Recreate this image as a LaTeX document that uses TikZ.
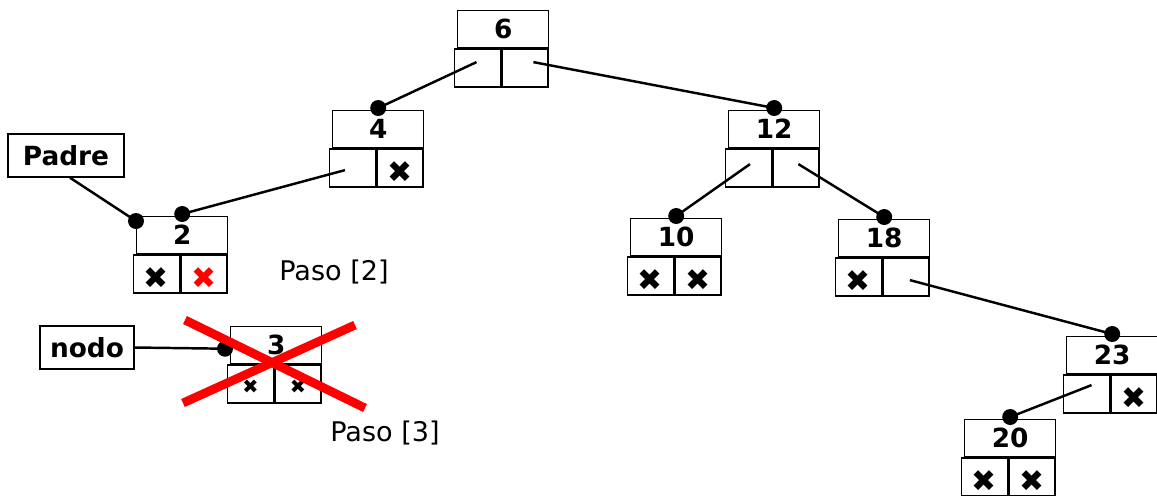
\documentclass[tikz,border=0pt]{standalone}
\usepackage{fontspec}
\setmainfont{DejaVu Sans}
\usepackage{xcolor}
\usepackage{tikz}
\usetikzlibrary{positioning,calc}

\newcommand{\crs}{\raisebox{-8.2pt}{✖}}
\newcommand{\redcrs}{\textcolor{red}{\crs}}
\newcommand{\smallcrs}{\raisebox{-5.2pt}{\fontsize{11}{12}\selectfont ✖}}

\tikzset{
    keybox/.style={draw, line width=0.8pt, minimum width=18.2mm, minimum height=7.4mm,
        inner sep=0pt, font=\fontsize{15}{17}\selectfont\bfseries},
    cell/.style={draw, line width=0.8pt, minimum width=9.2mm, minimum height=7.6mm,
        inner sep=0pt, text height=0pt, text depth=0pt, font=\fontsize{17}{18}\selectfont},
    tag/.style={draw, line width=0.8pt, minimum height=8.6mm, inner sep=0pt,
        font=\fontsize{15}{17}\selectfont\bfseries},
    link/.style={line width=1.4pt},
    dot/.style={fill=black},
    crossout/.style={red, line width=5pt},
    step note/.style={font=\fontsize{15.4}{17}\selectfont, inner sep=0pt}
}

\begin{document}
\begin{tikzpicture}[x=0.2mm,y=-0.2mm]
    \useasboundingbox (0,0) rectangle (1157,495);

    % Tree nodes: key box on top, two pointer cells below
    \foreach \n/\px/\py/\v/\leftmk/\rightmk in {
        n6/457/10/6/{}/{}, n4/332/110/4/{}/\crs, n12/728/110/12/{}/{},
        n2/136/216/2/\crs/\redcrs, n3/230/326/3/\smallcrs/\smallcrs,
        n10/630/218/10/\crs/\crs, n18/838/219/18/\crs/{},
        n23/1066/336/23/{}/\crs, n20/964/419/20/\crs/\crs} {
        \node[keybox, anchor=north west] (\n) at (\px,\py) {\v};
        \node[cell, anchor=north east] (\n-l) at ([xshift=-0.4mm]\n.south) {\leftmk};
        \node[cell, anchor=north west] (\n-r) at ([xshift=-0.4mm]\n.south) {\rightmk};
        \coordinate (\n-in) at ([yshift=0.4mm]\n.north);
    }

    % Pointer dots
    \foreach \n in {n4,n12,n2,n10,n18,n23,n20} {
        \fill[dot] (\n-in) circle (1.6mm);
    }
    \coordinate (n2-par) at ([yshift=-1mm]n2.north west);
    \coordinate (n3-in) at ([xshift=-1mm,yshift=-0.7mm]n3.west);
    \fill[dot] (n2-par) circle (1.6mm);
    \fill[dot] (n3-in) circle (1.6mm);

    % Links between nodes
    \draw[link] ([xshift=-0.2mm,yshift=1.2mm]n6-l.center) -- (n4-in);
    \draw[link] ([xshift=1.7mm,yshift=1.2mm]n6-r.center) -- (n12-in);
    \draw[link] ([xshift=-1.5mm,yshift=-0.4mm]n4-l.center) -- (n2-in);
    \draw[link] ([xshift=0.3mm,yshift=0.8mm]n12-l.center) -- (n10-in);
    \draw[link] ([xshift=0.5mm,yshift=0.8mm]n12-r.center) -- (n18-in);
    \draw[link] ([xshift=0.8mm,yshift=-0.6mm]n18-r.center) -- (n23-in);
    \draw[link] ([xshift=1mm,yshift=1.8mm]n23-l.center) -- (n20-in);

    % Pointers Padre and nodo
    \node[tag, minimum width=23.2mm] (padre) at (66,155.5) {Padre};
    \node[tag, minimum width=18.8mm] (nodo) at (87,347.5) {nodo};
    \draw[link] ([xshift=0.8mm]padre.south) -- (n2-par);
    \draw[link] (nodo.east) -- (n3-in);

    % Deleted node
    \draw[crossout] (185,320) -- (365,408);
    \draw[crossout] (183,403) -- (355,325);

    \node[step note, anchor=west] (paso2) at (279,272) {Paso [2]};
    \node[step note, anchor=west] (paso3) at (330,433) {Paso [3]};
\end{tikzpicture}
\end{document}
